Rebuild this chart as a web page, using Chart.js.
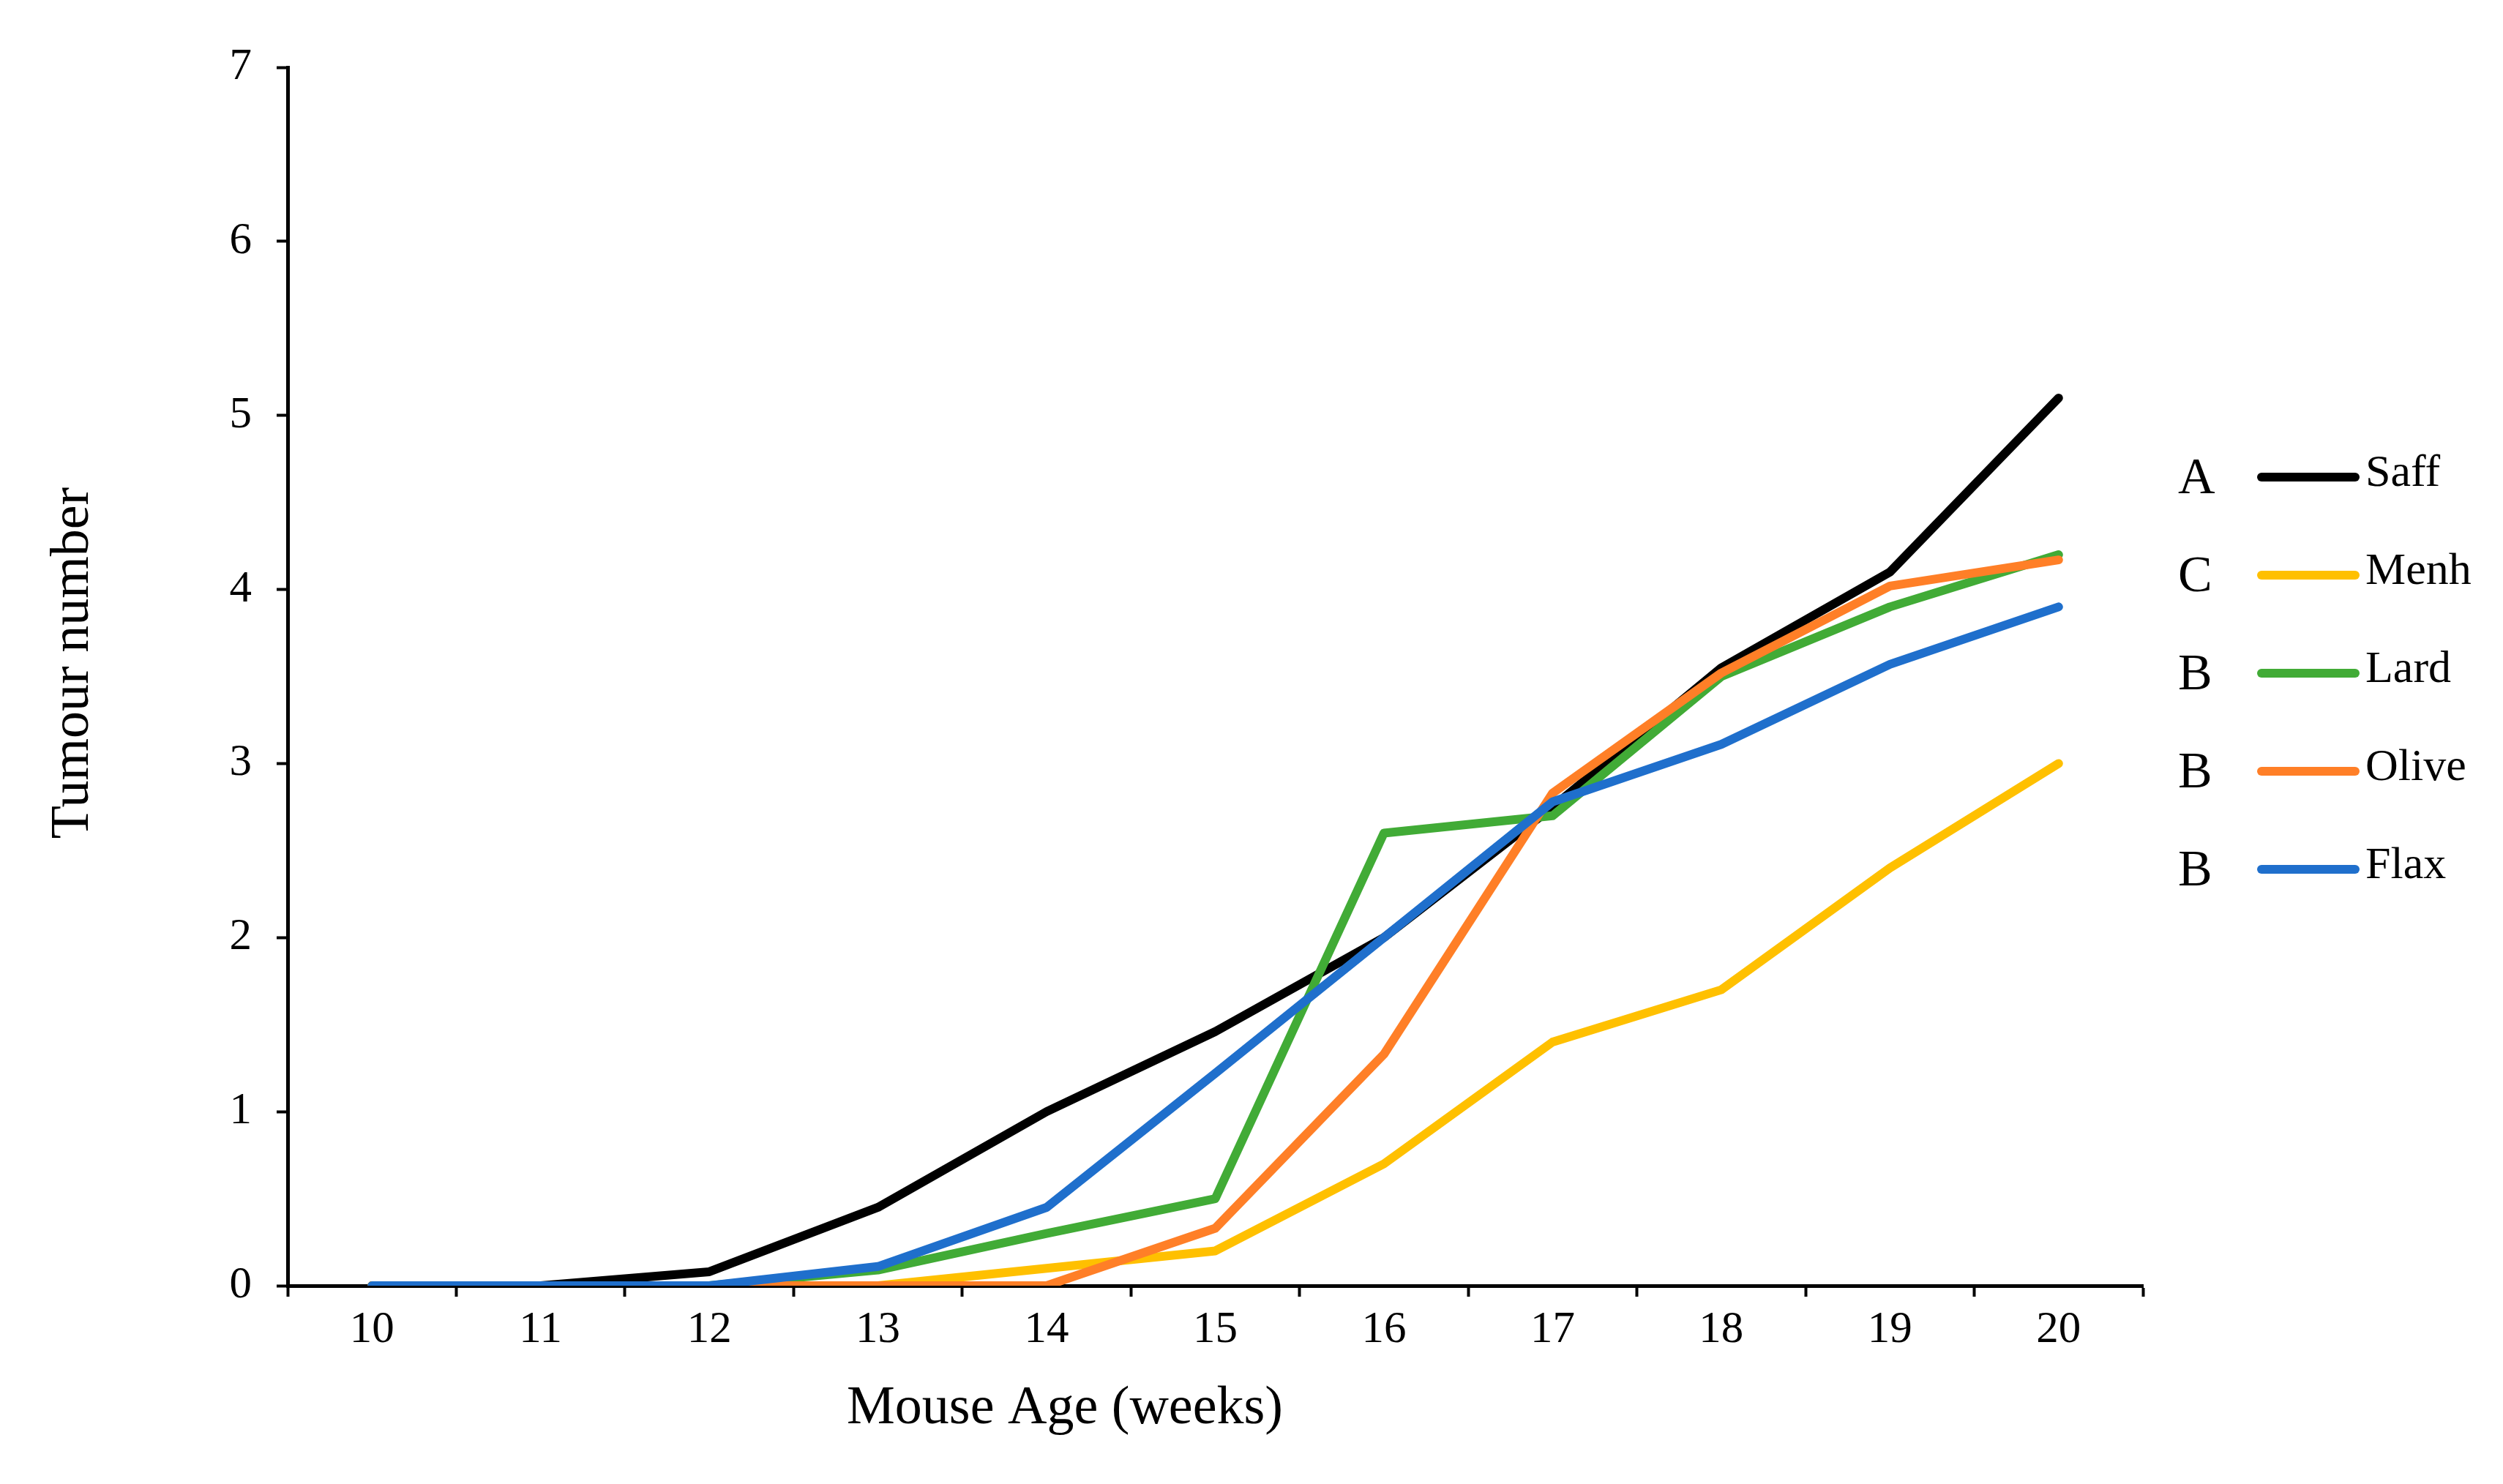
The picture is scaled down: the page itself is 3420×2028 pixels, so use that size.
<!DOCTYPE html>
<html>
<head>
<meta charset="utf-8">
<title>Tumour number by mouse age</title>
<script src="https://cdn.jsdelivr.net/npm/chart.js@4.4.1/dist/chart.umd.min.js"></script>
<style>
  html, body { margin: 0; padding: 0; background: #fff; }
  #wrap { width: 3420px; height: 2028px; position: relative; }
</style>
</head>
<body>
<div id="wrap"><canvas id="tumourChart"></canvas></div>
<script>
// ---- data ----
const weeks = ['10', '11', '12', '13', '14', '15', '16', '17', '18', '19', '20'];
const saff  = [0, 0, 0.08, 0.45, 1.0, 1.46, 2.0, 2.75, 3.55, 4.1, 5.1];
const menh  = [0, 0, 0, 0, 0.1, 0.2, 0.7, 1.4, 1.7, 2.4, 3.0];
const lard  = [0, 0, 0, 0.09, 0.3, 0.5, 2.6, 2.7, 3.5, 3.9, 4.2];
const olive = [0, 0, 0, 0, 0, 0.33, 1.33, 2.83, 3.52, 4.02, 4.17];
const flax  = [0, 0, 0, 0.11, 0.45, 1.22, 2.0, 2.78, 3.11, 3.57, 3.9];

const seriesNames = ['Saff', 'Menh', 'Lard', 'Olive', 'Flax'];
const groupLetters = ['A', 'C', 'B', 'B', 'B'];
const seriesColors = ['#000000', '#FFC000', '#41AB36', '#FF7F27', '#1F6FCC'];
const yTicks = [0, 1, 2, 3, 4, 5, 6, 7];

const serif = '"Liberation Serif", "Times New Roman", serif';

// axis titles + legend on the right (letter, short line, name)
const letterLegend = {
    id: 'letterLegend',
    afterDraw(chart) {
        const ctx = chart.ctx;
        ctx.save();
        ctx.fillStyle = '#000';
        ctx.textBaseline = 'middle';

        // axis titles (the reference puts them off-centre)
        ctx.font = '74px ' + serif;
        ctx.textAlign = 'center';
        ctx.fillText('Mouse Age (weeks)', 1455, 1926);
        ctx.save();
        ctx.translate(101, 906);
        ctx.rotate(-Math.PI / 2);
        ctx.fillText('Tumour number', 0, 0);
        ctx.restore();

        ctx.textAlign = 'left';
        chart.data.datasets.forEach((ds, i) => {
            const y = 652 + i * 134;
            ctx.fillStyle = '#000';
            ctx.font = '70px ' + serif;
            ctx.fillText(groupLetters[i], 2976, y + 4);

            ctx.strokeStyle = ds.borderColor;
            ctx.lineWidth = 12;
            ctx.lineCap = 'round';
            ctx.beginPath();
            ctx.moveTo(3090, y);
            ctx.lineTo(3218, y);
            ctx.stroke();

            ctx.font = '62px ' + serif;
            ctx.fillText(ds.label, 3232, y - 4);
        });
        ctx.restore();
    }
};

const allValues = [saff, menh, lard, olive, flax];

new Chart(document.getElementById('tumourChart'), {
    type: 'line',
    data: {
        labels: weeks,
        datasets: allValues.map((vals, i) => ({
            label: seriesNames[i],
            data: vals,
            borderColor: seriesColors[i],
            backgroundColor: seriesColors[i],
            borderWidth: 12,
            borderCapStyle: 'round',
            borderJoinStyle: 'round',
            pointRadius: 0,
            tension: 0,
            fill: false,
            order: allValues.length - 1 - i   // later series painted on top
        }))
    },
    options: {
        responsive: true,
        maintainAspectRatio: false,
        devicePixelRatio: 1,
        animation: false,
        layout: { padding: { top: 92, right: 492, bottom: 0, left: 0 } },
        plugins: {
            legend: { display: false },
            tooltip: { enabled: false }
        },
        scales: {
            x: {
                type: 'category',
                offset: true,
                afterFit(scale) { scale.height = 271; },
                grid: {
                    offset: true,
                    drawOnChartArea: false,
                    drawTicks: true,
                    tickLength: 15,
                    tickWidth: 4,
                    tickColor: '#000'
                },
                border: { display: true, color: '#000', width: 5 },
                ticks: {
                    color: '#000',
                    padding: 9,
                    maxRotation: 0,
                    font: { family: serif, size: 61 }
                }
            },
            y: {
                min: 0,
                max: 7,
                afterFit(scale) { scale.width = 393; },
                afterBuildTicks(scale) { scale.ticks = yTicks.map(v => ({ value: v })); },
                grid: {
                    drawOnChartArea: false,
                    drawTicks: true,
                    tickLength: 15,
                    tickWidth: 4,
                    tickColor: '#000'
                },
                border: { display: true, color: '#000', width: 5 },
                ticks: {
                    color: '#000',
                    padding: 34,
                    font: { family: serif, size: 61 }
                }
            }
        }
    },
    plugins: [letterLegend]
});
</script>
</body>
</html>
